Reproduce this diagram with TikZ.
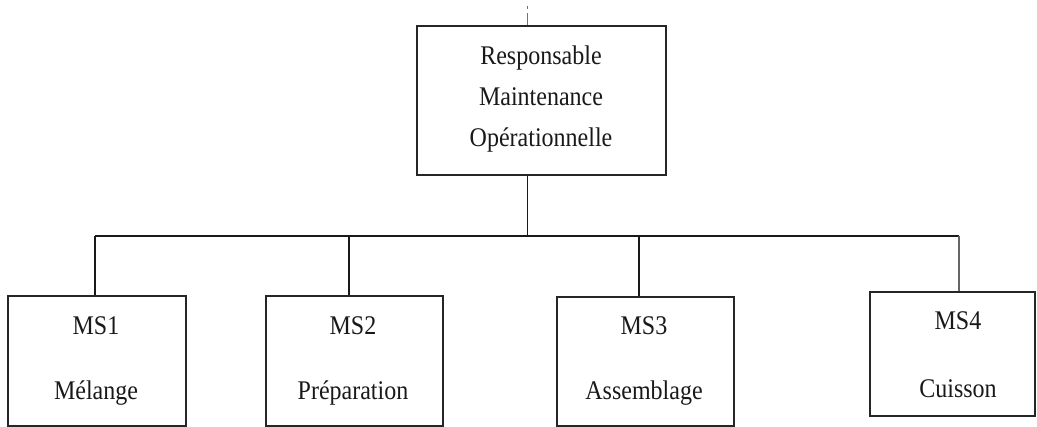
\documentclass[tikz,border=0pt]{standalone}
\usepackage{fontspec}
\setmainfont{Liberation Serif}
\definecolor{markred}{RGB}{196,80,80}
\newcommand{\tallword}[1]{\scalebox{0.98}[1.1]{#1}}
\begin{document}
\begin{tikzpicture}[x=1pt,y=-1pt,
  box/.style={draw=black!85, line width=1.3pt, fill=none, inner sep=0pt},
  lbl/.style={inner sep=0pt, anchor=base, text=black!90, font=\fontsize{24.5}{28}\selectfont},
  link/.style={draw=black!90, line width=1.1pt}]
\useasboundingbox (0,0) rectangle (1037,427);

% boxes
\node[box, minimum width=249pt, minimum height=149pt] (top) at (541.5,100.5) {};
\node[box, minimum width=178pt, minimum height=130pt] (m1) at (97,361) {};
\node[box, minimum width=177pt, minimum height=130pt] (m2) at (354.5,361) {};
\node[box, minimum width=177pt, minimum height=129pt] (m3) at (645.5,361.5) {};
\node[box, minimum width=165pt, minimum height=124pt] (m4) at (952.5,354) {};

% labels
\node[lbl] (t1) at (541,65) {\tallword{Responsable}};
\node[lbl] (t2) at (541,106) {\tallword{Maintenance}};
\node[lbl] (t3) at (541,147) {\tallword{Opérationnelle}};
\node[lbl] (a1) at (96,335) {\tallword{MS1}};
\node[lbl] (b1) at (96,400) {\tallword{Mélange}};
\node[lbl] (a2) at (353,335) {\tallword{MS2}};
\node[lbl] (b2) at (353,400) {\tallword{Préparation}};
\node[lbl] (a3) at (644,335) {\tallword{MS3}};
\node[lbl] (b3) at (644,400) {\tallword{Assemblage}};
\node[lbl] (a4) at (958,330) {\tallword{MS4}};
\node[lbl] (b4) at (958,398) {\tallword{Cuisson}};

% bus and drops
\coordinate (j)  at (527.7,236);
\coordinate (d1) at (95,236);
\coordinate (d2) at (349,236);
\coordinate (d3) at (639,236);
\coordinate (d4) at (959,236);
\draw[link] (top.south -| j) -- (j);
\draw[link] (d1) -- (d4);
\draw[link] (d1) -- (d1 |- m1.north);
\draw[link] (d2) -- (d2 |- m2.north);
\draw[link] (d3) -- (d3 |- m3.north);
\draw[link, draw=black!60] (d4) -- (d4 |- m4.north);

% small red mark above the top box
\coordinate (r) at (527.5,6);
\draw[markred, line width=1.2pt, dash pattern=on 3pt off 4pt on 14pt] (r) -- (r |- top.north);
\end{tikzpicture}
\end{document}
